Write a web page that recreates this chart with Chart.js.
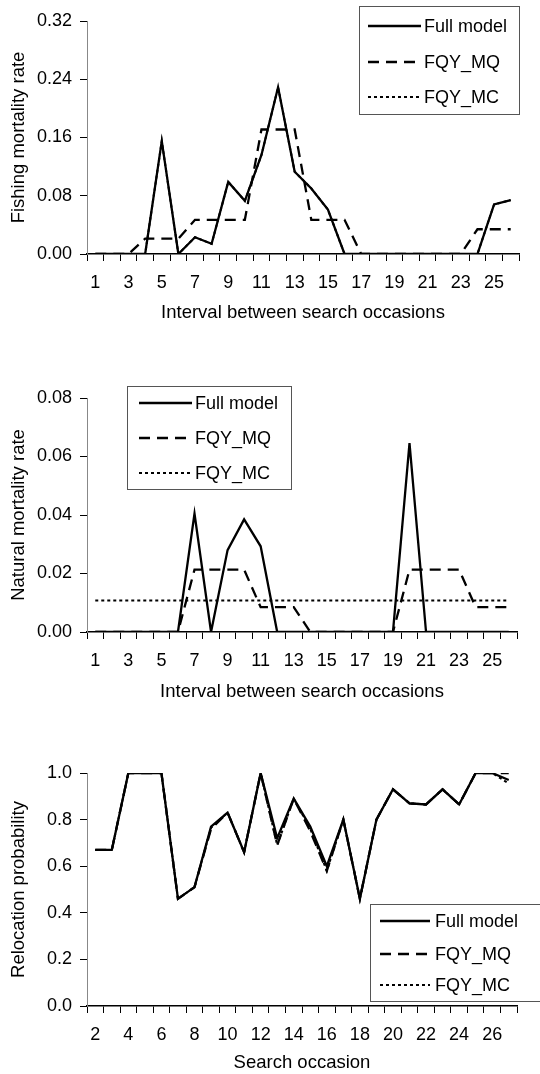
<!DOCTYPE html>
<html>
<head>
<meta charset="utf-8">
<script src="https://cdn.jsdelivr.net/npm/chart.js@4.4.1/dist/chart.umd.min.js"></script>
<style>
body { margin: 0; background: #fff; }
canvas { position: absolute; left: 0; }
</style>
</head>
<body>
<canvas id="fishing" width="540" height="330" style="top:0px"></canvas>
<canvas id="natural" width="540" height="378" style="top:330px"></canvas>
<canvas id="reloc" width="540" height="366" style="top:708px"></canvas>
<script>
var intervals = ['1','2','3','4','5','6','7','8','9','10','11','12','13','14','15','16','17','18','19','20','21','22','23','24','25','26'];
var occasions = ['2','3','4','5','6','7','8','9','10','11','12','13','14','15','16','17','18','19','20','21','22','23','24','25','26','27'];

// fishing mortality rate
var fishFull = [0, 0, 0, 0, 0.155, 0, 0.023, 0.014, 0.099, 0.073, 0.136, 0.229, 0.113, 0.090, 0.061, 0, 0, 0, 0, 0, 0, 0, 0, 0, 0.068, 0.074];
var fishMQ   = [0, 0, 0, 0.021, 0.021, 0.021, 0.047, 0.047, 0.047, 0.047, 0.171, 0.171, 0.171, 0.047, 0.047, 0.047, 0, 0, 0, 0, 0, 0, 0, 0.034, 0.034, 0.034];
var fishMC   = [0, 0, 0, 0, 0.155, 0, 0.023, 0.014, 0.099, 0.073, 0.136, 0.229, 0.113, 0.090, 0.061, 0, 0, 0, 0, 0, 0, 0, 0, 0, 0.068, 0.074];

// natural mortality rate
var natFull = [0, 0, 0, 0, 0, 0, 0.0405, 0, 0.028, 0.0385, 0.0293, 0, 0, 0, 0, 0, 0, 0, 0, 0.0646, 0, 0, 0, 0, 0, 0];
var natMQ   = [0, 0, 0, 0, 0, 0, 0.0213, 0.0213, 0.0213, 0.0213, 0.0085, 0.0085, 0.0085, 0, 0, 0, 0, 0, 0, 0.0213, 0.0213, 0.0213, 0.0213, 0.0085, 0.0085, 0.0085];
var natMC   = [0.0108, 0.0108, 0.0108, 0.0108, 0.0108, 0.0108, 0.0108, 0.0108, 0.0108, 0.0108, 0.0108, 0.0108, 0.0108, 0.0108, 0.0108, 0.0108, 0.0108, 0.0108, 0.0108, 0.0108, 0.0108, 0.0108, 0.0108, 0.0108, 0.0108, 0.0108];

// relocation probability
var relFull = [0.67, 0.67, 1, 1, 1, 0.46, 0.51, 0.77, 0.83, 0.66, 1, 0.72, 0.89, 0.77, 0.60, 0.80, 0.46, 0.80, 0.93, 0.87, 0.865, 0.93, 0.865, 1, 1, 0.97];
var relMQ   = [0.67, 0.67, 1, 1, 1, 0.46, 0.51, 0.76, 0.83, 0.66, 1, 0.69, 0.89, 0.75, 0.58, 0.80, 0.46, 0.80, 0.93, 0.87, 0.865, 0.93, 0.865, 1, 1, 1];
var relMC   = [0.67, 0.67, 1, 1, 1, 0.46, 0.51, 0.765, 0.83, 0.66, 1, 0.69, 0.89, 0.76, 0.58, 0.80, 0.46, 0.80, 0.93, 0.87, 0.865, 0.93, 0.865, 1, 1, 0.955];

var FONT = '"Liberation Sans", Arial, sans-serif';
Chart.defaults.font.family = FONT;
Chart.defaults.color = '#000';
Chart.defaults.animation = false;

// legend drawn as a box inside the plot
var boxLegend = {
    id: 'boxLegend',
    afterDraw: function (chart) {
        var o = chart.options.plugins.boxLegend;
        var ctx = chart.ctx;
        ctx.save();
        ctx.fillStyle = '#fff';
        ctx.fillRect(o.x, o.y, o.w, o.h);
        ctx.strokeStyle = '#555';
        ctx.lineWidth = 1;
        ctx.strokeRect(o.x + 0.5, o.y + 0.5, o.w, o.h);
        ctx.font = '18px ' + FONT;
        ctx.textBaseline = 'middle';
        chart.data.datasets.forEach(function (ds, i) {
            var y = o.rows[i];
            ctx.beginPath();
            ctx.setLineDash(ds.borderDash || []);
            ctx.lineWidth = ds.borderWidth;
            ctx.strokeStyle = '#000';
            ctx.moveTo(o.lineX0, y);
            ctx.lineTo(o.lineX1, y);
            ctx.stroke();
            ctx.setLineDash([]);
            ctx.fillStyle = '#000';
            ctx.fillText(ds.label, o.textX, y + 1);
        });
        ctx.restore();
    }
};

var makeChart = function (id, labels, full, mq, mc, cfg) {
    return new Chart(document.getElementById(id), {
        type: 'line',
        plugins: [boxLegend],
        data: {
            labels: labels,
            datasets: [
                {label: 'Full model', data: full, borderColor: '#000', borderWidth: 2.3, pointRadius: 0, tension: 0, fill: false},
                {label: 'FQY_MQ', data: mq, borderColor: '#000', borderWidth: 2.3, borderDash: [11, 7], pointRadius: 0, tension: 0, fill: false},
                {label: 'FQY_MC', data: mc, borderColor: '#000', borderWidth: 2, borderDash: [3, 3], pointRadius: 0, tension: 0, fill: false}
            ]
        },
        options: {
            responsive: false,
            layout: {padding: {top: cfg.padTop, right: cfg.padRight, left: 0, bottom: 0}},
            plugins: {
                legend: {display: false},
                tooltip: {enabled: false},
                boxLegend: cfg.legend
            },
            scales: {
                x: {
                    type: 'category',
                    offset: true,
                    border: {color: '#000', width: 1.5},
                    grid: {offset: true, drawOnChartArea: false, tickLength: 7, color: '#000'},
                    ticks: {
                        autoSkip: false, maxRotation: 0, padding: 11, font: {size: 18},
                        callback: function (val, i) {
                            return i % 2 === 0 ? this.getLabelForValue(val) : '';
                        }
                    },
                    title: {display: true, text: cfg.xTitle, font: {size: 18.5}, padding: {top: 0, bottom: cfg.xTitlePad}},
                    afterFit: function (s) { s.height = cfg.xHeight; }
                },
                y: {
                    min: 0,
                    max: cfg.yMax,
                    border: {color: '#888', width: 1},
                    grid: {drawOnChartArea: false, tickLength: 7, color: '#000'},
                    ticks: {
                        stepSize: cfg.yStep, padding: 8, font: {size: 18},
                        callback: function (v) { return v.toFixed(cfg.yDec); }
                    },
                    title: {display: true, text: cfg.yTitle, font: {size: 18.5}, padding: {top: 8, bottom: 0}},
                    afterFit: function (s) { s.width = 87; }
                }
            }
        }
    });
};

makeChart('fishing', intervals, fishFull, fishMQ, fishMC, {
    padTop: 21, padRight: 21, xHeight: 76, xTitlePad: 6,
    xTitle: 'Interval between search occasions', yTitle: 'Fishing mortality rate',
    yMax: 0.32, yStep: 0.08, yDec: 2,
    legend: {x: 359, y: 6, w: 160, h: 108, rows: [26, 62, 97], lineX0: 368, lineX1: 421, textX: 424}
});

makeChart('natural', intervals, natFull, natMQ, natMC, {
    padTop: 68, padRight: 23, xHeight: 76, xTitlePad: 5,
    xTitle: 'Interval between search occasions', yTitle: 'Natural mortality rate',
    yMax: 0.08, yStep: 0.02, yDec: 2,
    legend: {x: 127, y: 56, w: 164, h: 103, rows: [73, 108, 143], lineX0: 139, lineX1: 192, textX: 195}
});

makeChart('reloc', occasions, relFull, relMQ, relMC, {
    padTop: 65, padRight: 23, xHeight: 68, xTitlePad: 0,
    xTitle: 'Search occasion', yTitle: 'Relocation probability',
    yMax: 1.0, yStep: 0.2, yDec: 1,
    legend: {x: 370, y: 196, w: 200, h: 97, rows: [213, 246, 277], lineX0: 380, lineX1: 430, textX: 435}
});
</script>
</body>
</html>
